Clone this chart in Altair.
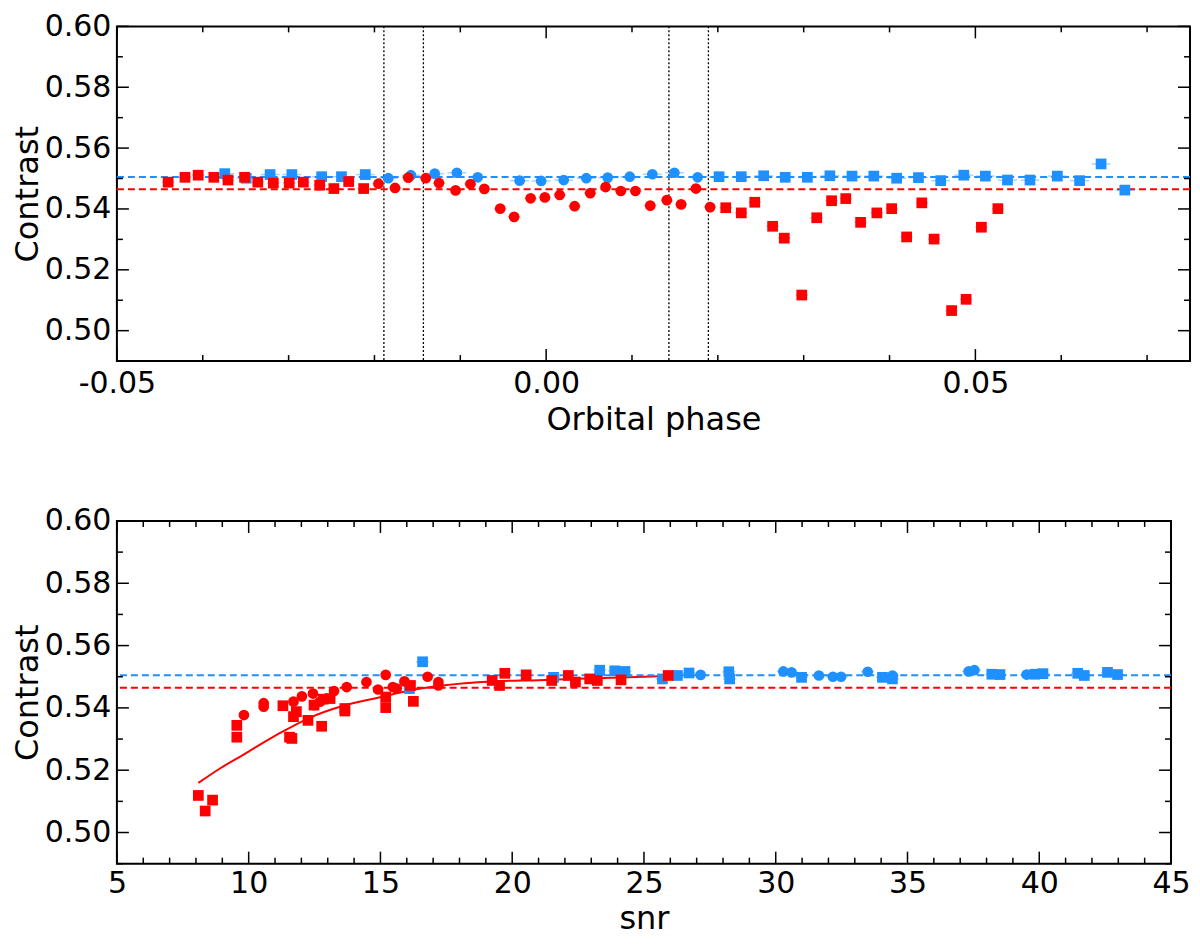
import altair as alt
import pandas as pd

# ---- top panel: contrast vs orbital phase ----
phase_red_sq = [-0.04403, -0.04207, -0.04053, -0.03871, -0.03706, -0.03513, -0.03359, -0.03178,
                -0.02993, -0.02828, -0.02638, -0.02473, -0.02300, -0.02126, 0.02092, 0.02273,
                0.02430, 0.02638, 0.02774, 0.02978, 0.03152, 0.03325, 0.03490, 0.03663, 0.03852,
                0.04025, 0.04199, 0.04376, 0.04519, 0.04723, 0.04892, 0.05070, 0.05262]
contrast_red_sq = [0.5488, 0.5504, 0.5511, 0.5504, 0.5495, 0.5504, 0.5488, 0.5485, 0.5485, 0.5488,
                   0.5478, 0.5467, 0.5490, 0.5467, 0.5404, 0.5387, 0.5422, 0.5343, 0.5304, 0.5117,
                   0.5371, 0.5427, 0.5434, 0.5356, 0.5387, 0.5401, 0.5308, 0.5420, 0.5301, 0.5066,
                   0.5103, 0.5340, 0.5401]
phase_red_ci = [-0.01953, -0.01760, -0.01606, -0.01402, -0.01248, -0.01055, -0.00882, -0.00720,
                -0.00535, -0.00373, -0.00181, -0.00015, 0.00158, 0.00332, 0.00514, 0.00693,
                0.00870, 0.01040, 0.01213, 0.01406, 0.01572, 0.01745, 0.01910]
contrast_red_ci = [0.5483, 0.5469, 0.5503, 0.5501, 0.5485, 0.5461, 0.5482, 0.5466, 0.5401, 0.5374,
                   0.5435, 0.5438, 0.5446, 0.5409, 0.5452, 0.5472, 0.5459, 0.5459, 0.5411, 0.5429,
                   0.5415, 0.5467, 0.5406]
phase_blue_sq = [-0.03744, -0.03494, -0.03216, -0.02962, -0.02615, -0.02384, -0.02107, 0.02014,
                 0.02273, 0.02534, 0.02785, 0.03043, 0.03305, 0.03563, 0.03817, 0.04083, 0.04337,
                 0.04596, 0.04865, 0.05116, 0.05374, 0.05636, 0.05955, 0.06214, 0.06464, 0.06741]
contrast_blue_sq = [0.5516, 0.5501, 0.5513, 0.5513, 0.5506, 0.5506, 0.5513, 0.5506, 0.5506, 0.5509,
                    0.5504, 0.5504, 0.5509, 0.5508, 0.5508, 0.5501, 0.5503, 0.5493, 0.5511, 0.5508,
                    0.5495, 0.5495, 0.5508, 0.5493, 0.5548, 0.5462]
phase_blue_ci = [-0.01838, -0.01575, -0.01298, -0.01040, -0.00797, -0.00309, -0.00058, 0.00205,
                 0.00468, 0.00717, 0.00974, 0.01237, 0.01494, 0.01765]
contrast_blue_ci = [0.5501, 0.5511, 0.5516, 0.5519, 0.5504, 0.5493, 0.5492, 0.5495, 0.5501, 0.5503,
                    0.5506, 0.5514, 0.5519, 0.5504]
transit_edges = [-0.0189, -0.0143, 0.0143, 0.0189]

# ---- bottom panel: contrast vs snr ----
snr_red_sq = [8.09, 8.35, 8.63, 9.55, 9.55, 11.30, 11.55, 11.64, 11.70, 11.81, 12.25, 12.48, 12.77,
              12.83, 13.09, 13.65, 13.65, 15.20, 15.20, 16.14, 16.25, 19.24, 19.52, 19.72, 20.53,
              21.50, 22.13, 22.40, 22.94, 23.23, 24.13, 25.92]
snr_contrast_red_sq = [0.5119, 0.5069, 0.5104, 0.5344, 0.5306, 0.5407, 0.5306, 0.5302, 0.5372,
                       0.5388, 0.5360, 0.5409, 0.5341, 0.5428, 0.5430, 0.5398, 0.5390, 0.5401,
                       0.5435, 0.5472, 0.5421, 0.5488, 0.5472, 0.5511, 0.5506, 0.5488, 0.5504,
                       0.5483, 0.5493, 0.5488, 0.5490, 0.5504]
snr_red_ci = [9.82, 10.57, 10.57, 11.70, 12.02, 12.44, 12.50, 12.71, 13.24, 13.72, 14.47, 14.91,
              15.20, 15.47, 15.62, 15.91, 16.79, 17.20, 17.20]
snr_contrast_red_ci = [0.5377, 0.5415, 0.5404, 0.5420, 0.5437, 0.5446, 0.5409, 0.5420, 0.5454,
                       0.5467, 0.5483, 0.5459, 0.5506, 0.5467, 0.5462, 0.5485, 0.5500, 0.5483, 0.5472]
snr_blue_sq = [16.60, 16.10, 21.57, 23.32, 23.89, 24.28, 25.70, 26.27, 26.71, 28.22, 28.25, 30.98,
               34.05, 34.43, 38.20, 38.51, 39.83, 40.14, 41.46, 41.71, 42.59, 42.97]
snr_contrast_blue_sq = [0.5548, 0.5462, 0.5498, 0.5521, 0.5519, 0.5517, 0.5493, 0.5504, 0.5512,
                        0.5516, 0.5493, 0.5498, 0.5498, 0.5493, 0.5508, 0.5507, 0.5508, 0.5510,
                        0.5511, 0.5504, 0.5514, 0.5507]
snr_blue_ci = [27.15, 30.29, 30.60, 31.64, 32.17, 32.48, 33.49, 34.43, 37.32, 37.54, 39.52]
snr_contrast_blue_ci = [0.5506, 0.5517, 0.5514, 0.5504, 0.5500, 0.5500, 0.5516, 0.5504, 0.5517,
                        0.5521, 0.5507]
fit_snr = [8.09, 8.94, 9.82, 11.08, 12.33, 13.59, 15.03, 16.10, 17.35, 19.24, 21.0, 23.5, 25.9]
fit_contrast = [0.5159, 0.5207, 0.5251, 0.5314, 0.5369, 0.5407, 0.5435, 0.5456, 0.5472, 0.5485,
                0.5489, 0.5496, 0.5502]

# out-of-transit reference levels
ref_levels = {'blue': 0.5505, 'red': 0.5465}
# typical error bar half-widths
xerr_phase = {'blue': 0.0011, 'red': 0.0007}
xerr_snr = {'blue': 0.25, 'red': 0.12}
yerr = {'blue': 0.0004, 'red': 0.0008}

# tick values
y_major = [0.50, 0.52, 0.54, 0.56, 0.58, 0.60]
y_minor = [0.49, 0.51, 0.53, 0.55, 0.57, 0.59]
phase_major = [-0.05, 0.0, 0.05]
phase_minor = [-0.04, -0.03, -0.02, -0.01, 0.01, 0.02, 0.03, 0.04, 0.06, 0.07]
snr_major = [5, 10, 15, 20, 25, 30, 35, 40, 45]
snr_minor = [v for v in range(6, 45) if v % 5 != 0]

FONT = 'DejaVu Sans'
colour_scale = alt.Scale(domain=['blue', 'red'], range=['#1e90ff', '#ff0000'])
shape_scale = alt.Scale(domain=['square', 'circle'], range=['square', 'circle'])


def points(groups, xerr):
    frames = []
    for xs, ys, colour, shape in groups:
        d = pd.DataFrame({'x': xs, 'y': ys, 'colour': colour, 'shape': shape})
        d['xlo'] = d['x'] - xerr[colour]
        d['xhi'] = d['x'] + xerr[colour]
        d['ylo'] = d['y'] - yerr[colour]
        d['yhi'] = d['y'] + yerr[colour]
        frames.append(d)
    return pd.concat(frames, ignore_index=True)


def panel(df, xscale, yscale, xaxis, width, height, xmaj, xmin, extra):
    yaxis = alt.Axis(values=y_major, format='.2f', title='Contrast')
    # every layer carries the same axis so the merged axis keeps labels
    X = alt.X('x:Q', scale=xscale, axis=xaxis)
    Y = alt.Y('y:Q', scale=yscale, axis=yaxis)
    col = alt.Color('colour:N', scale=colour_scale, legend=None)

    xbars = alt.Chart(df).mark_rule(strokeWidth=1.5, opacity=0.4).encode(
        x=X, x2='xhi:Q', y=Y, color=col
    ).transform_calculate(x='datum.xlo')
    ybars = alt.Chart(df).mark_rule(strokeWidth=1.5, opacity=0.4).encode(
        x=X, y=Y, y2='yhi:Q', color=col
    ).transform_calculate(y='datum.ylo')
    dots = alt.Chart(df).mark_point(filled=True, size=115, opacity=1).encode(
        x=X, y=Y, color=col,
        shape=alt.Shape('shape:N', scale=shape_scale, legend=None),
        order=alt.Order('rank:Q')
    ).transform_calculate(rank="datum.colour == 'red' ? 1 : 0")

    refs = pd.DataFrame({'y': list(ref_levels.values()), 'colour': list(ref_levels.keys())})
    ref_lines = alt.Chart(refs).mark_rule(strokeWidth=2, strokeDash=[7, 4]).encode(
        y=Y, color=col
    )

    ticks = []
    for vals, n in ((y_major, 12), (y_minor, 6)):
        d = pd.DataFrame({'y': vals})
        base = alt.Chart(d).mark_rule(color='black', strokeWidth=1.5)
        ticks.append(base.encode(y=Y, x=alt.value(0), x2=alt.value(n)))
        ticks.append(base.encode(y=Y, x=alt.value(width - n), x2=alt.value(width)))
    for vals, n in ((xmaj, 12), (xmin, 6)):
        d = pd.DataFrame({'x': vals})
        base = alt.Chart(d).mark_rule(color='black', strokeWidth=1.5)
        ticks.append(base.encode(x=X, y=alt.value(height - n), y2=alt.value(height)))
        ticks.append(base.encode(x=X, y=alt.value(0), y2=alt.value(n)))

    layers = [e.encode(x=X) if 'y' not in e.encoding.to_dict() else e.encode(x=X, y=Y)
              for e in extra]
    return alt.layer(*layers, ref_lines, xbars, ybars, dots, *ticks).properties(
        width=width, height=height
    )


# top panel
top_df = points([
    (phase_blue_sq, contrast_blue_sq, 'blue', 'square'),
    (phase_blue_ci, contrast_blue_ci, 'blue', 'circle'),
    (phase_red_sq, contrast_red_sq, 'red', 'square'),
    (phase_red_ci, contrast_red_ci, 'red', 'circle'),
], xerr_phase)
phase_scale = alt.Scale(domain=[-0.05, 0.075], nice=False, zero=False)
ys_top = alt.Scale(domain=[0.49, 0.60], nice=False, zero=False)
phase_axis = alt.Axis(
    values=phase_major, title='Orbital phase', labelPadding=7, titlePadding=6,
    labelExpr="datum.value < 0 ? '-' + format(-datum.value, '.2f') : format(datum.value, '.2f')"
)
edges = alt.Chart(pd.DataFrame({'x': transit_edges})).mark_rule(
    color='black', strokeWidth=1.3, strokeDash=[2, 2]
).encode(x='x:Q')
top = panel(top_df, phase_scale, ys_top, phase_axis, 1074, 335,
            phase_major, phase_minor, [edges])

# bottom panel
bot_df = points([
    (snr_blue_sq, snr_contrast_blue_sq, 'blue', 'square'),
    (snr_blue_ci, snr_contrast_blue_ci, 'blue', 'circle'),
    (snr_red_sq, snr_contrast_red_sq, 'red', 'square'),
    (snr_red_ci, snr_contrast_red_ci, 'red', 'circle'),
], xerr_snr)
snr_scale = alt.Scale(domain=[5, 45], nice=False, zero=False)
ys_bot = alt.Scale(domain=[0.49, 0.60], nice=False, zero=False)
snr_axis = alt.Axis(values=snr_major, format='d', title='snr', labelPadding=5, titlePadding=5)
fit = alt.Chart(pd.DataFrame({'x': fit_snr, 'y': fit_contrast})).mark_line(
    color='#ff0000', strokeWidth=2, interpolate='monotone'
).encode(x='x:Q', y='y:Q')
bottom = panel(bot_df, snr_scale, ys_bot, snr_axis, 1055, 343,
               snr_major, snr_minor, [fit])

chart = alt.vconcat(top, bottom, spacing=69).properties(
    padding={'left': 2, 'top': 2, 'right': 0, 'bottom': 0}
).configure_view(
    stroke='black', strokeWidth=2
).configure_axis(
    labelFont=FONT, titleFont=FONT, labelFontSize=30, titleFontSize=32,
    titleFontWeight='normal', labelColor='black', titleColor='black',
    ticks=False, domain=False, grid=False, labelFlush=False, labelOverlap=False
).configure_axisY(
    labelPadding=6, titlePadding=0
)

chart.save('out.html', embed_options={'renderer': 'svg', 'actions': False})
